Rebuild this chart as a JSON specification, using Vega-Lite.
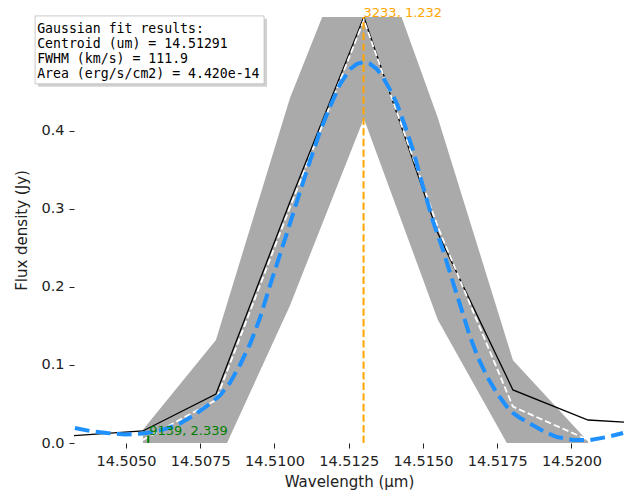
{
  "$schema": "https://vega.github.io/schema/vega-lite/v6.json",
  "width": 550,
  "height": 426,
  "autosize": {"type": "none"},
  "padding": {"left": 74, "top": 17, "right": 7, "bottom": 51},
  "background": "white",
  "config": {"view": {"stroke": null}},
  "datasets": {
    "flux": [
      {"wl": 14.50307, "flux": 0.0090},
      {"wl": 14.50557, "flux": 0.0154},
      {"wl": 14.50803, "flux": 0.0628},
      {"wl": 14.51052, "flux": 0.309},
      {"wl": 14.51301, "flux": 0.546},
      {"wl": 14.51550, "flux": 0.269},
      {"wl": 14.51803, "flux": 0.068},
      {"wl": 14.52056, "flux": 0.0295},
      {"wl": 14.52305, "flux": 0.024}
    ],
    "band": [
      {"wl": 14.50557, "lo": -0.05, "hi": 0.017},
      {"wl": 14.50803, "lo": -0.031, "hi": 0.132},
      {"wl": 14.51052, "lo": 0.176, "hi": 0.442},
      {"wl": 14.51301, "lo": 0.416, "hi": 0.68},
      {"wl": 14.51550, "lo": 0.158, "hi": 0.417},
      {"wl": 14.51803, "lo": -0.014, "hi": 0.106},
      {"wl": 14.52056, "lo": -0.1, "hi": 0.002}
    ],
    "model": [
      {"wl": 14.50557, "v": 0.004},
      {"wl": 14.50803, "v": 0.055},
      {"wl": 14.51052, "v": 0.302},
      {"wl": 14.51301, "v": 0.542},
      {"wl": 14.51550, "v": 0.277},
      {"wl": 14.51803, "v": 0.0466},
      {"wl": 14.52056, "v": 0.004}
    ],
    "fit": [
      {"wl": 14.50328, "v": 0.0192},
      {"wl": 14.50379, "v": 0.0154},
      {"wl": 14.50436, "v": 0.0128},
      {"wl": 14.50497, "v": 0.0110},
      {"wl": 14.50547, "v": 0.0118},
      {"wl": 14.50598, "v": 0.0145},
      {"wl": 14.50638, "v": 0.0188},
      {"wl": 14.50682, "v": 0.0250},
      {"wl": 14.50726, "v": 0.0350},
      {"wl": 14.50773, "v": 0.0475},
      {"wl": 14.50817, "v": 0.0610},
      {"wl": 14.50850, "v": 0.0770},
      {"wl": 14.50884, "v": 0.1000},
      {"wl": 14.50918, "v": 0.1270},
      {"wl": 14.50951, "v": 0.1600},
      {"wl": 14.50985, "v": 0.2020},
      {"wl": 14.51019, "v": 0.2420},
      {"wl": 14.51052, "v": 0.2810},
      {"wl": 14.51086, "v": 0.3220},
      {"wl": 14.51120, "v": 0.3620},
      {"wl": 14.51153, "v": 0.3990},
      {"wl": 14.51187, "v": 0.4310},
      {"wl": 14.51221, "v": 0.4600},
      {"wl": 14.51254, "v": 0.4790},
      {"wl": 14.51278, "v": 0.4860},
      {"wl": 14.51298, "v": 0.4880},
      {"wl": 14.51322, "v": 0.4860},
      {"wl": 14.51345, "v": 0.4790},
      {"wl": 14.51365, "v": 0.4690},
      {"wl": 14.51389, "v": 0.4530},
      {"wl": 14.51413, "v": 0.4340},
      {"wl": 14.51439, "v": 0.4070},
      {"wl": 14.51466, "v": 0.3760},
      {"wl": 14.51497, "v": 0.3330},
      {"wl": 14.51534, "v": 0.2840},
      {"wl": 14.51567, "v": 0.2480},
      {"wl": 14.51601, "v": 0.2060},
      {"wl": 14.51631, "v": 0.1700},
      {"wl": 14.51658, "v": 0.1370},
      {"wl": 14.51685, "v": 0.1100},
      {"wl": 14.51716, "v": 0.0850},
      {"wl": 14.51749, "v": 0.0640},
      {"wl": 14.51783, "v": 0.0462},
      {"wl": 14.51803, "v": 0.0385},
      {"wl": 14.51827, "v": 0.0321},
      {"wl": 14.51860, "v": 0.0250},
      {"wl": 14.51911, "v": 0.0141},
      {"wl": 14.51951, "v": 0.0077},
      {"wl": 14.52005, "v": 0.0040},
      {"wl": 14.52062, "v": 0.0038},
      {"wl": 14.52120, "v": 0.0077},
      {"wl": 14.52174, "v": 0.0128}
    ],
    "peak": [{"wl": 14.51300, "bottom": 0, "top": 0.546, "label": "3233, 1.232"}],
    "edge": [{"wl": 14.50575, "bottom": 0, "top": 0.0103, "label": "9139, 2.339"}],
    "box": [{"x1": 14.50194, "x2": 14.50965, "y1": 0.4603, "y2": 0.5474}],
    "shadow": [{"x1": 14.50204, "x2": 14.50975, "y1": 0.4565, "y2": 0.5436}],
    "info": [
      {"wl": 14.50201, "y": 0.5253, "line": "Gaussian fit results:"},
      {"wl": 14.50201, "y": 0.5061, "line": "Centroid (um) = 14.51291"},
      {"wl": 14.50201, "y": 0.4869, "line": "FWHM (km/s) = 111.9"},
      {"wl": 14.50201, "y": 0.4676, "line": "Area (erg/s/cm2) = 4.420e-14"}
    ]
  },
  "layer": [
    {
      "data": {"name": "band"},
      "mark": {"type": "area", "color": "#aaaaaa", "opacity": 1, "clip": true},
      "encoding": {
        "x": {
          "field": "wl", "type": "quantitative",
          "scale": {"domain": [14.50325, 14.52177], "nice": false, "zero": false},
          "axis": {
            "title": "Wavelength (µm)",
            "values": [14.505, 14.5075, 14.51, 14.5125, 14.515, 14.5175, 14.52],
            "format": ".4f",
            "grid": false, "domain": false,
            "tickColor": "#222", "tickSize": 5, "tickWidth": 1,
            "labelFont": "DejaVu Sans", "labelFontSize": 14.5, "labelColor": "#222",
            "labelPadding": 6, "labelFlush": false, "labelOverlap": false,
            "titleFont": "DejaVu Sans", "titleFontSize": 15, "titleFontWeight": "normal",
            "titleColor": "#222", "titlePadding": 7
          }
        },
        "y": {
          "field": "lo", "type": "quantitative",
          "scale": {"domain": [0, 0.546], "nice": false, "zero": false},
          "axis": {
            "title": "Flux density (Jy)",
            "values": [0, 0.1, 0.2, 0.3, 0.4],
            "format": ".1f",
            "grid": false, "domain": false,
            "tickColor": "#222", "tickSize": 5, "tickWidth": 1,
            "labelFont": "DejaVu Sans", "labelFontSize": 14.5, "labelColor": "#222",
            "labelPadding": 5, "labelFlush": false,
            "titleFont": "DejaVu Sans", "titleFontSize": 15, "titleFontWeight": "normal",
            "titleColor": "#222", "titlePadding": 11
          }
        },
        "y2": {"field": "hi"}
      }
    },
    {
      "data": {"name": "flux"},
      "mark": {"type": "line", "color": "black", "strokeWidth": 1.3, "clip": true},
      "encoding": {
        "x": {"field": "wl", "type": "quantitative"},
        "y": {"field": "flux", "type": "quantitative"}
      }
    },
    {
      "data": {"name": "model"},
      "mark": {"type": "line", "color": "white", "strokeWidth": 1.8, "strokeDash": [6.5, 3], "clip": true},
      "encoding": {
        "x": {"field": "wl", "type": "quantitative"},
        "y": {"field": "v", "type": "quantitative"}
      }
    },
    {
      "data": {"name": "fit"},
      "mark": {"type": "line", "color": "#1e90ff", "strokeWidth": 4, "strokeDash": [14.8, 6.4], "clip": true},
      "encoding": {
        "x": {"field": "wl", "type": "quantitative"},
        "y": {"field": "v", "type": "quantitative"}
      }
    },
    {
      "data": {"name": "peak"},
      "mark": {"type": "rule", "color": "orange", "strokeWidth": 2, "strokeDash": [7.4, 3.2]},
      "encoding": {
        "x": {"field": "wl", "type": "quantitative"},
        "y": {"field": "bottom", "type": "quantitative"},
        "y2": {"field": "top"}
      }
    },
    {
      "data": {"name": "peak"},
      "mark": {"type": "text", "color": "orange", "font": "DejaVu Sans", "fontSize": 13, "align": "left", "baseline": "alphabetic", "dx": 0},
      "encoding": {
        "x": {"field": "wl", "type": "quantitative"},
        "y": {"field": "top", "type": "quantitative"},
        "text": {"field": "label"}
      }
    },
    {
      "data": {"name": "edge"},
      "mark": {"type": "rule", "color": "green", "strokeWidth": 2, "strokeDash": [7.4, 3.2]},
      "encoding": {
        "x": {"field": "wl", "type": "quantitative"},
        "y": {"field": "bottom", "type": "quantitative"},
        "y2": {"field": "top"}
      }
    },
    {
      "data": {"name": "edge"},
      "mark": {"type": "text", "color": "green", "font": "DejaVu Sans", "fontSize": 13, "align": "left", "baseline": "alphabetic", "dx": 1},
      "encoding": {
        "x": {"field": "wl", "type": "quantitative"},
        "y": {"field": "top", "type": "quantitative"},
        "text": {"field": "label"}
      }
    },
    {
      "data": {"name": "shadow"},
      "mark": {"type": "rect", "color": "black", "opacity": 0.18},
      "encoding": {
        "x": {"field": "x1", "type": "quantitative"},
        "x2": {"field": "x2"},
        "y": {"field": "y1", "type": "quantitative"},
        "y2": {"field": "y2"}
      }
    },
    {
      "data": {"name": "box"},
      "mark": {"type": "rect", "fill": "white", "stroke": "#bbbbbb", "strokeWidth": 0.8},
      "encoding": {
        "x": {"field": "x1", "type": "quantitative"},
        "x2": {"field": "x2"},
        "y": {"field": "y1", "type": "quantitative"},
        "y2": {"field": "y2"}
      }
    },
    {
      "data": {"name": "info"},
      "mark": {"type": "text", "color": "black", "font": "DejaVu Sans Mono", "fontSize": 13.2, "align": "left", "baseline": "alphabetic"},
      "encoding": {
        "x": {"field": "wl", "type": "quantitative"},
        "y": {"field": "y", "type": "quantitative"},
        "text": {"field": "line"}
      }
    }
  ]
}
